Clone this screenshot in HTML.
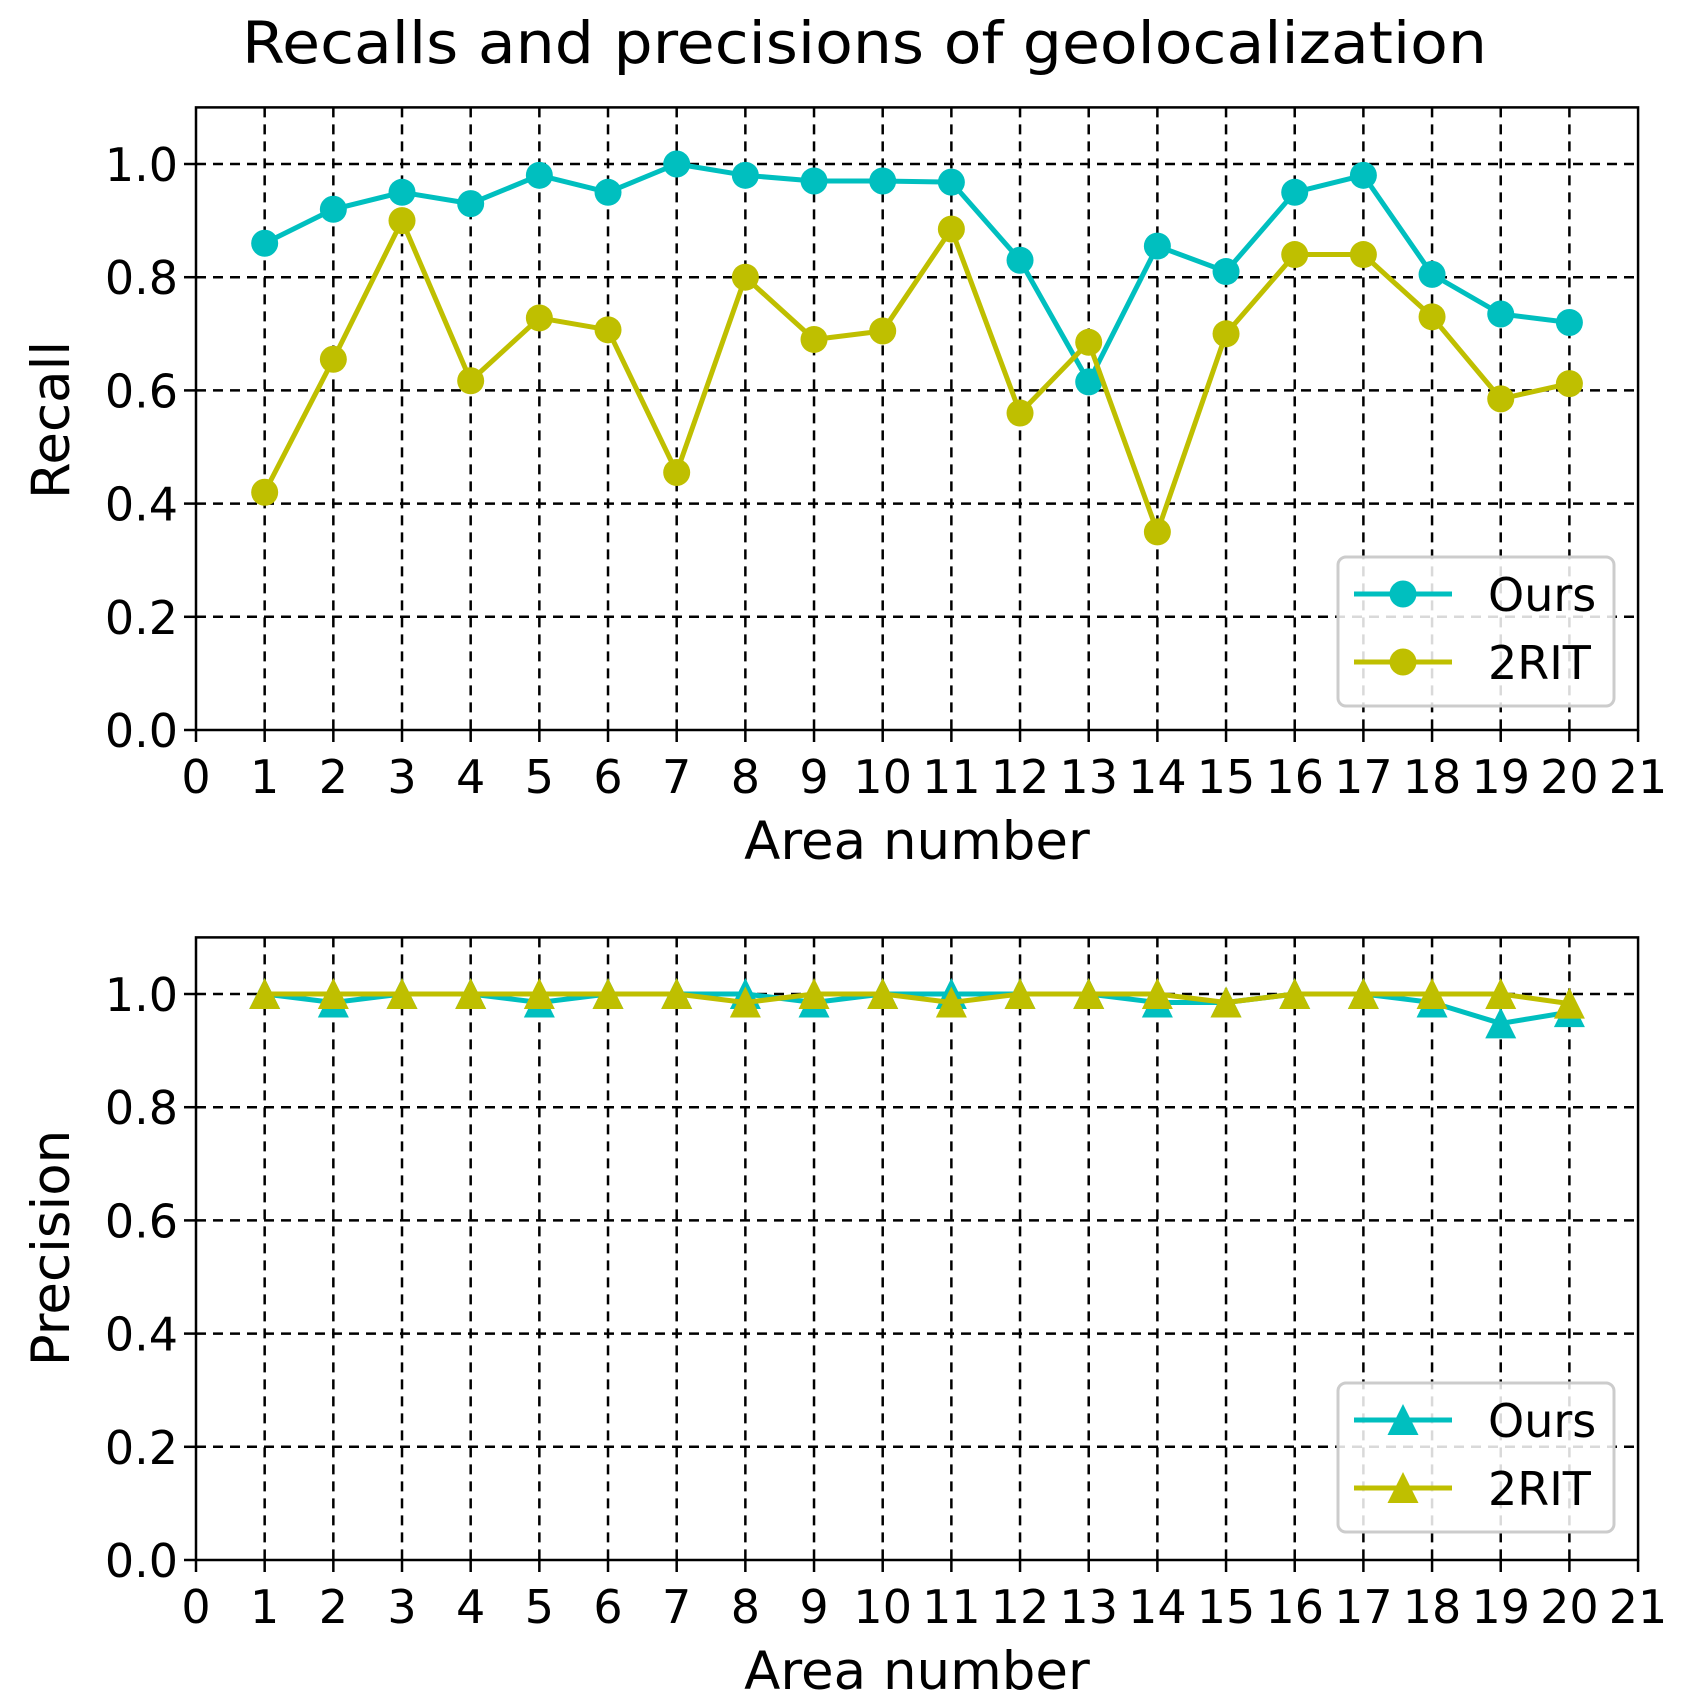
<!DOCTYPE html>
<html><head><meta charset="utf-8">
<style>
html,body{margin:0;padding:0;background:#fff;}
svg{display:block;}
text{font-family:"DejaVu Sans","Liberation Sans",sans-serif;fill:#000;}
</style></head>
<body>
<svg id="s" width="1692" height="1708" viewBox="0 0 1692 1708" xmlns="http://www.w3.org/2000/svg">
<rect width="1692" height="1708" fill="#fff"/>
<text x="242" y="63" font-size="58" textLength="1245" lengthAdjust="spacingAndGlyphs">Recalls and precisions of geolocalization</text>
</svg>
<script>
(function(){
var s=document.getElementById('s');var NS='http://www.w3.org/2000/svg';
function el(t,a,txt){var e=document.createElementNS(NS,t);for(var k in a)e.setAttribute(k,a[k]);if(txt!=null)e.textContent=txt;s.appendChild(e);return e;}
var X0=196,DX=68.67,X1=196+21*DX;
var C='#00bfbf',Y='#bfbf00';
function X(i){return X0+i*DX;}
function plot(y0,data,marker,ylabel,ylabCY,legY){
  var top=y0-1.1*566;
  function Yv(v){return y0-v*566;}
  for(var i=1;i<=20;i++)el('line',{x1:X(i),x2:X(i),y1:top,y2:y0,stroke:'#000','stroke-width':2.5,'stroke-dasharray':'10,7'});
  for(var v=0.2;v<=1.01;v+=0.2)el('line',{x1:X0,x2:X1,y1:Yv(v),y2:Yv(v),stroke:'#000','stroke-width':2.5,'stroke-dasharray':'10,7'});
  data.forEach(function(d){
    var pts=d.v.map(function(v,i){return X(i+1)+','+Yv(v);}).join(' ');
    el('polyline',{points:pts,fill:'none',stroke:d.c,'stroke-width':5,'stroke-linejoin':'round'});
    d.v.forEach(function(v,i){mk(marker,X(i+1),Yv(v),d.c);});
  });
  el('rect',{x:X0,y:top,width:X1-X0,height:y0-top,fill:'none',stroke:'#000','stroke-width':2.5});
  for(var i=0;i<=21;i++){el('line',{x1:X(i),x2:X(i),y1:y0,y2:y0+12,stroke:'#000','stroke-width':2.5});
    el('text',{x:X(i),y:y0+63,'font-size':46,'text-anchor':'middle'},String(i));}
  for(var k=0;k<=5;k++){var v=k*0.2;el('line',{x1:X0-12,x2:X0,y1:Yv(v),y2:Yv(v),stroke:'#000','stroke-width':2.5});
    el('text',{x:X0-18,y:Yv(v)+17,'font-size':46,'text-anchor':'end'},v.toFixed(1));}
  el('text',{x:917,y:y0+129,'font-size':53,'text-anchor':'middle'},'Area number');
  el('text',{x:0,y:0,'font-size':53,'text-anchor':'middle',transform:'translate(69,'+ylabCY+') rotate(-90)'},ylabel);
  el('rect',{x:1338,y:legY,width:276,height:149,rx:8,fill:'#fff','fill-opacity':0.85,stroke:'#ccc','stroke-width':3});
  data.forEach(function(d,j){var ly=legY+37+j*68;
    el('line',{x1:1354,x2:1452,y1:ly,y2:ly,stroke:d.c,'stroke-width':5});
    mk(marker,1403,ly,d.c);
    el('text',{x:1488,y:ly+17,'font-size':46},d.n);});
}
function mk(m,x,y,c){
  if(m==='o')el('circle',{cx:x,cy:y,r:13.5,fill:c});
  else el('polygon',{points:(x)+','+(y-16)+' '+(x-15.5)+','+(y+15)+' '+(x+15.5)+','+(y+15),fill:c});
}
plot(730,[
 {n:'Ours',c:C,v:[0.86,0.92,0.95,0.93,0.98,0.95,1.0,0.98,0.97,0.97,0.968,0.83,0.615,0.855,0.81,0.95,0.98,0.805,0.735,0.72]},
 {n:'2RIT',c:Y,v:[0.42,0.655,0.90,0.617,0.728,0.707,0.455,0.80,0.69,0.705,0.885,0.56,0.685,0.35,0.70,0.84,0.84,0.73,0.585,0.612]}
],'o','Recall',420,557);
plot(1560,[
 {n:'Ours',c:C,v:[1,0.985,1,1,0.985,1,1,1,0.985,1,1,1,1,0.985,0.985,1,1,0.985,0.948,0.968]},
 {n:'2RIT',c:Y,v:[1,1,1,1,1,1,1,0.985,1,1,0.985,1,1,1,0.985,1,1,1,1,0.983]}
],'^','Precision',1248,1383);
})();
</script>
</body></html>
